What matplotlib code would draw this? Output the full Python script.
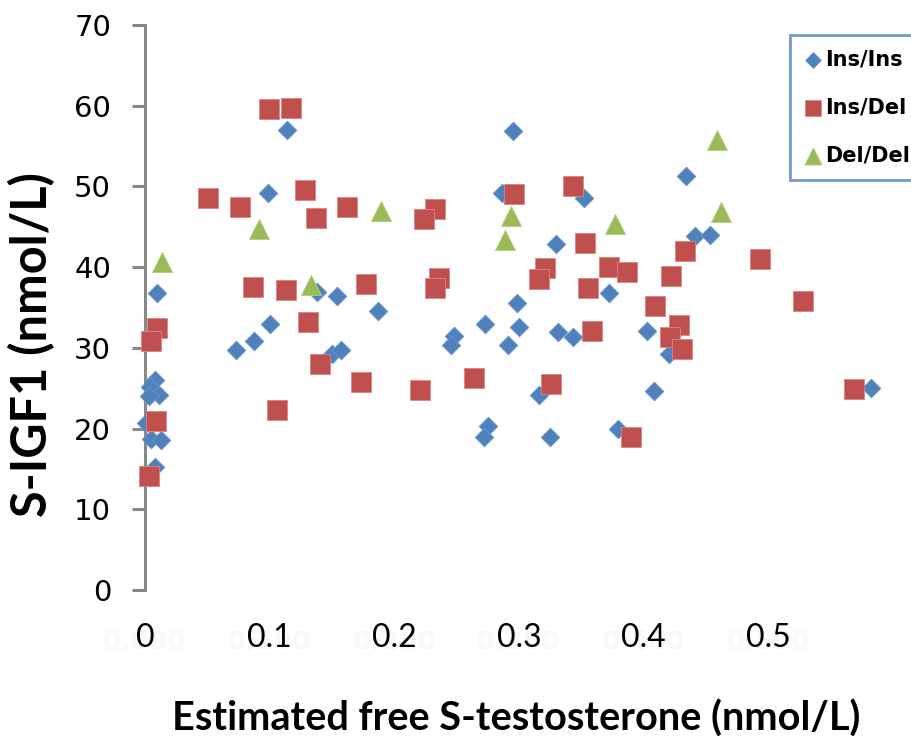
import matplotlib
matplotlib.use("Agg")
import matplotlib.pyplot as plt

# Ins/Ins genotype (blue diamonds)
ins_ins_x = [0.1137, 0.099, 0.0099, 0.1378, 0.154, 0.187, 0.100, 0.073, 0.0875, 0.150, 0.157,
             0.008, 0.004, 0.011, 0.003, 0.001, 0.005, 0.013, 0.008,
             0.2948, 0.286, 0.352, 0.330, 0.298, 0.372, 0.273, 0.2996, 0.248, 0.2453, 0.2908,
             0.331, 0.343, 0.403, 0.408, 0.3157, 0.2747, 0.272, 0.325, 0.379,
             0.434, 0.441, 0.4535, 0.420, 0.5827]
ins_ins_y = [57.0, 49.2, 36.8, 36.9, 36.4, 34.6, 33.0, 29.7, 30.9, 29.2, 29.7,
             26.0, 25.2, 24.2, 24.0, 20.7, 18.7, 18.6, 15.2,
             56.8, 49.2, 48.5, 42.9, 35.5, 36.8, 33.0, 32.6, 31.5, 30.4, 30.3,
             32.0, 31.4, 32.1, 24.7, 24.2, 20.3, 18.9, 19.0, 19.9,
             51.3, 43.9, 44.0, 29.2, 25.0]

# Ins/Del genotype (red squares)
ins_del_x = [0.0995, 0.117, 0.0503, 0.128, 0.0765, 0.137, 0.162, 0.087, 0.1134, 0.177,
             0.131, 0.0094, 0.0046, 0.1404, 0.1736, 0.1057, 0.0086, 0.003,
             0.2956, 0.343, 0.2327, 0.224, 0.3526, 0.321, 0.3157, 0.372, 0.3866,
             0.2354, 0.2327, 0.355, 0.409, 0.3585, 0.2207, 0.2635, 0.3255, 0.3898,
             0.433, 0.493, 0.422, 0.5275, 0.428, 0.4208, 0.4307, 0.569]
ins_del_y = [59.6, 59.7, 48.6, 49.6, 47.4, 46.1, 47.5, 37.5, 37.1, 37.9,
             33.2, 32.4, 30.9, 28.0, 25.8, 22.3, 20.9, 14.1,
             49.1, 50.0, 47.2, 45.9, 43.0, 39.9, 38.5, 40.0, 39.4,
             38.7, 37.4, 37.4, 35.2, 32.1, 24.8, 26.2, 25.5, 18.9,
             42.0, 41.0, 38.9, 35.8, 32.8, 31.4, 29.8, 24.9]

# Del/Del genotype (green triangles)
del_del_x = [0.0134, 0.0915, 0.133, 0.189, 0.2937, 0.2889, 0.377, 0.459, 0.462]
del_del_y = [40.6, 44.7, 37.8, 47.0, 46.3, 43.3, 45.3, 55.7, 46.8]

x_ticks = [0, 0.1, 0.2, 0.3, 0.4, 0.5]
x_tick_labels = ["0", "0.1", "0.2", "0.3", "0.4", "0.5"]
# almost invisible leftover labels sitting behind the x tick labels
ghost_ticks = [0, 0.1, 0.2, 0.3, 0.4, 0.5]
ghost_labels = ["0.000", "0.100", "0.200", "0.300", "0.400", "0.500"]
y_ticks = [0, 10, 20, 30, 40, 50, 60, 70]

narrow = ["Lato", "DejaVu Sans"]

fig = plt.figure(figsize=(9.11, 7.42), dpi=100)
ax = fig.add_axes([0.1592, 0.2049, 0.8211, 0.7615])

ax.scatter(ins_ins_x, ins_ins_y, marker="D", s=90, color="#4F81BD",
           edgecolors="#6A96CC", linewidths=0.6, zorder=3, clip_on=False, label="Ins/Ins")
ax.scatter(ins_del_x, ins_del_y, marker="s", s=205, color="#C0504D",
           edgecolors="#D88583", linewidths=0.6, zorder=4, clip_on=False, label="Ins/Del")
ax.scatter(del_del_x, del_del_y, marker="^", s=210, color="#9BBB59",
           edgecolors="#B4CE80", linewidths=0.6, zorder=5, clip_on=False, label="Del/Del")

ax.set_xlim(0, 0.6)
ax.set_ylim(0, 70)

for s in ["top", "right", "bottom"]:
    ax.spines[s].set_visible(False)
ax.spines["left"].set_color("#888888")
ax.spines["left"].set_linewidth(2.2)

ax.set_yticks(y_ticks)
ax.tick_params(axis="y", direction="out", length=9.5, width=2.2, color="#888888",
               labelsize=21, pad=15)
ax.set_xticks(x_ticks)
ax.set_xticklabels(x_tick_labels, family=narrow, fontsize=23, zorder=2)
ax.tick_params(axis="x", length=0, pad=24)

for gx, gl in zip(ghost_ticks, ghost_labels):
    ax.annotate(gl, xy=(gx, 0), xycoords="data", xytext=(0, -38),
                textcoords="offset points", ha="center", va="center",
                fontsize=19, fontweight="bold", color="#F8F8F8", zorder=0,
                annotation_clip=False)

fig.text(0.567, 0.032, "Estimated free S-testosterone (nmol/L)", family=narrow,
         fontsize=28.5, fontweight="bold", ha="center", va="center")
fig.text(0.035, 0.535, "S-IGF1 (nmol/L)", family=narrow, fontsize=35,
         fontweight="bold", rotation=90, ha="center", va="center")

leg = fig.legend(loc="upper left", bbox_to_anchor=(0.867, 0.953),
                 prop={"family": ["DejaVu Sans"], "weight": "bold", "size": 15},
                 frameon=True, fancybox=False, borderpad=0.7, labelspacing=1.35,
                 handlelength=0.8, handletextpad=0.2, markerscale=0.85,
                 borderaxespad=0)
leg.get_frame().set_edgecolor("#4F81BD")
leg.get_frame().set_linewidth(2)

fig.savefig("out.png", dpi=100)
